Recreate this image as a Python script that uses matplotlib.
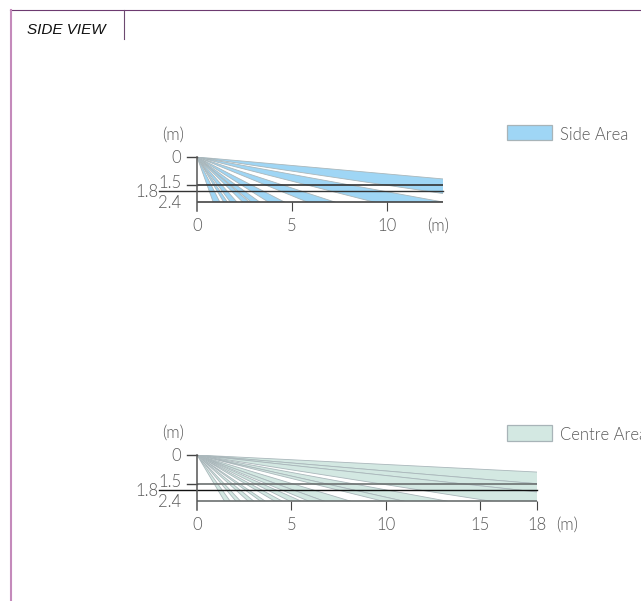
import matplotlib
matplotlib.use('Agg')
import matplotlib.pyplot as plt
from matplotlib.patches import Polygon, Rectangle

W, H = 641, 601
my_dpi = 100

# beam ends in metres, each beam runs from the sensor at (0, 0)
side_upper_x = [12.95, 12.95, 7.25, 4.6, 3.3, 2.75, 2.1, 1.6, 1.2]
side_upper_y = [1.17, 2.4, 2.4, 2.4, 2.4, 2.4, 2.4, 2.4, 2.4]
side_lower_x = [12.95, 9.3, 5.8, 3.75, 2.85, 2.4, 1.75, 1.4, 0.85]
side_lower_y = [1.95, 2.4, 2.4, 2.4, 2.4, 2.4, 2.4, 2.4, 2.4]

centre_upper_x = [18, 18, 18, 13.2, 10.9, 8.1, 6.7, 5.5, 4.5, 3.6, 3.0, 2.3, 1.75]
centre_upper_y = [0.89, 1.5, 1.93, 2.4, 2.4, 2.4, 2.4, 2.4, 2.4, 2.4, 2.4, 2.4, 2.4]
centre_lower_x = [18, 18, 15.5, 10.9, 9.8, 6.7, 5.9, 4.9, 4.1, 3.35, 2.7, 2.05, 1.45]
centre_lower_y = [1.5, 1.93, 2.4, 2.4, 2.4, 2.4, 2.4, 2.4, 2.4, 2.4, 2.4, 2.4, 2.4]

side_xticks = [5, 10]
centre_xticks = [5, 10, 15, 18]

GREY_TEXT = '#5a5a5a'
plt.rcParams['font.family'] = ['Lato', 'Liberation Sans', 'DejaVu Sans']
LABEL_SIZE = 12

fig = plt.figure(figsize=(W / my_dpi, H / my_dpi), dpi=my_dpi)

# page furniture, in pixels
page = fig.add_axes([0, 0, 1, 1])
page.set_xlim(0, W)
page.set_ylim(H, 0)
page.axis('off')
page.plot([10, 641], [10, 10], color='#6d3a70', lw=0.8)
page.plot([10.5, 10.5], [10, 601], color='#c48abb', lw=1.5)
page.plot([123.5, 123.5], [10, 39], color='#6d4a70', lw=0.8)
page.text(27, 30, 'SIDE VIEW', family='Liberation Sans', style='italic', weight='normal',
          fontsize=11, color='#111111', va='center')


def swatch(top, bottom, fill, label):
    page.add_patch(Rectangle((507, top), 45, bottom - top, fc=fill, ec='#a8b4b8', lw=0.9))
    page.text(560, (top + bottom) / 2 + 2, label, fontsize=LABEL_SIZE, weight=300,
              color=GREY_TEXT, va='center', clip_on=True)


swatch(125, 140, '#9fd6f5', 'Side Area')
swatch(425, 441, '#d3e8e2', 'Centre Area')


def zone(x0, x1, y0, y1, xmax, ux, uy, lx, ly, fill, xticks, line_colors, m_x):
    ax = fig.add_axes([x0 / W, 1 - y1 / H, (x1 - x0) / W, (y1 - y0) / H])
    ax.set_xlim(0, xmax)
    ax.set_ylim(2.4, 0)
    ax.patch.set_alpha(0)
    for s in ax.spines.values():
        s.set_visible(False)

    # rays are stretched past the frame and cut off by the axes
    for a, b, c, d in zip(ux, uy, lx, ly):
        ax.add_patch(Polygon([(0, 0), (a * 3, b * 3), (c * 3, d * 3)], closed=True,
                             fc=fill, ec='#aab7bb', lw=0.6, zorder=2))

    ax.hlines(1.5, 0, xmax, color=line_colors[0], lw=1.2, zorder=3)
    ax.hlines(2.4, 0, xmax, color=line_colors[2], lw=1.2, zorder=3, clip_on=False)
    # 1.8 m starts further out, next to its own label
    ax.plot([-38 / 19, xmax], [1.8, 1.8], color=line_colors[1], lw=1.0, zorder=3, clip_on=False)
    ax.plot([-10 / 19, 0], [1.5, 1.5], color='#444444', lw=1.0, zorder=3, clip_on=False)
    ax.plot([-10 / 19, 0], [0, 0], color='#444444', lw=1.0, zorder=3, clip_on=False)
    ax.plot([0, 0], [0, 2.4 + 9 / 18.75], color='#555555', lw=1.1, zorder=4, clip_on=False)

    ax.set_xticks(xticks)
    ax.set_xticklabels([])
    ax.tick_params(axis='x', length=6.5, width=0.8, color='#444444')
    ax.set_yticks([])
    kw = dict(textcoords='offset pixels', va='center', fontsize=LABEL_SIZE, weight=300,
              color=GREY_TEXT, annotation_clip=False)
    for v in [0] + list(xticks):
        ax.annotate(str(v), (v, 2.4), xytext=(0, -24), ha='center', **kw)
    ax.annotate('(m)', (m_x, 2.4), xytext=(0, -24), ha='center', **kw)
    ax.annotate('(m)', (0, 0), xytext=(-24, 22), ha='center', **kw)
    ax.annotate('0', (0, 0), xytext=(-16, -1), ha='right', **kw)
    ax.annotate('1.5', (0, 1.5), xytext=(-16, 2), ha='right', **kw)
    ax.annotate('1.8', (0, 1.8), xytext=(-39, -1), ha='right', **kw)
    ax.annotate('2.4', (0, 2.4), xytext=(-16, -1), ha='right', **kw)


zone(197, 443, 157, 202, 12.95, side_upper_x, side_upper_y, side_lower_x, side_lower_y,
     '#9fd6f5', side_xticks, ['#333333', '#333333', '#444444'], 12.7)
zone(197, 537, 455, 501, 18, centre_upper_x, centre_upper_y, centre_lower_x, centre_lower_y,
     '#d3e8e2', centre_xticks, ['#6b7070', '#111111', '#6b7070'], 19.6)

fig.savefig('out.png', dpi=my_dpi)
